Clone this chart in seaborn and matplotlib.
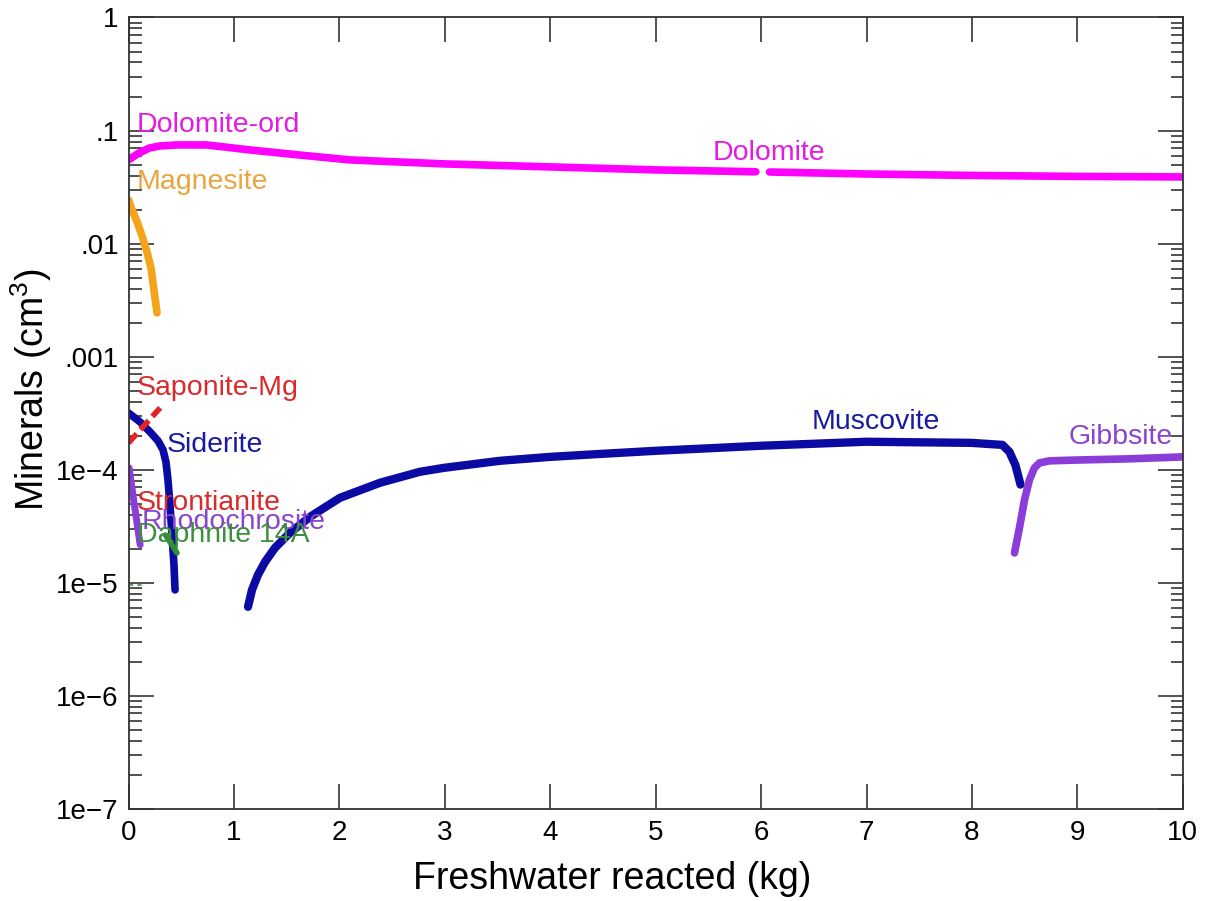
import numpy as np
import pandas as pd
import matplotlib
matplotlib.use("Agg")
import matplotlib.pyplot as plt
from matplotlib.ticker import FixedLocator, FixedFormatter, LogLocator, NullFormatter, NullLocator
import seaborn as sns

# ---- mineral volumes (cm3) versus freshwater reacted (kg) ----
dolomite_ord_x = [0.0, 0.1, 0.2, 0.3, 0.46, 0.74, 1.15, 1.62, 2.1, 3.0, 4.0, 5.0, 5.95]
dolomite_ord_y = [0.0550, 0.0634, 0.0702, 0.0731, 0.0746, 0.0746, 0.0674, 0.0608,
                  0.0550, 0.0507, 0.0477, 0.0449, 0.0432]

dolomite_x = [6.08, 7.0, 8.0, 9.0, 10.0]
dolomite_y = [0.0430, 0.0413, 0.0401, 0.0393, 0.0389]

magnesite_x = [0.0, 0.033, 0.081, 0.128, 0.175, 0.213, 0.232, 0.251, 0.270]
magnesite_y = [0.0243, 0.0199, 0.0156, 0.0117, 0.00843, 0.00610, 0.00449, 0.00331, 0.00244]

saponite_x = [0.0, 0.3]
saponite_y = [1.73e-4, 3.53e-4]

siderite_x = [0.0, 0.109, 0.204, 0.280, 0.327, 0.355, 0.374, 0.393, 0.412, 0.431, 0.441]
siderite_y = [3.18e-4, 2.65e-4, 2.16e-4, 1.80e-4, 1.50e-4, 1.17e-4, 8.15e-5, 4.9e-5,
              2.65e-5, 1.44e-5, 8.67e-6]

rhodochrosite_x = [0.005, 0.11]
rhodochrosite_y = [1.04e-4, 2.17e-5]

daphnite_x = [0.35, 0.46]
daphnite_y = [2.65e-5, 1.84e-5]

daphnite_tail_x = [0.0, 0.13]
daphnite_tail_y = [9.5e-6, 9.5e-6]

muscovite_x = [1.133, 1.171, 1.227, 1.294, 1.389, 1.531, 1.720, 2.005, 2.384, 2.763, 2.991,
               3.52, 3.995, 4.469, 4.991, 5.995, 7.0, 7.995, 8.289, 8.355, 8.412, 8.46]
muscovite_y = [6.14e-6, 8.67e-6, 1.175e-5, 1.53e-5, 2.04e-5, 2.77e-5, 3.83e-5, 5.65e-5,
               7.67e-5, 9.6e-5, 1.04e-4, 1.2e-4, 1.3e-4, 1.38e-4, 1.47e-4, 1.63e-4,
               1.77e-4, 1.73e-4, 1.66e-4, 1.44e-4, 1.1e-4, 7.4e-5]

gibbsite_x = [8.403, 8.450, 8.498, 8.545, 8.592, 8.640, 8.735, 9.0, 9.493, 9.995]
gibbsite_y = [1.84e-5, 3.06e-5, 5.42e-5, 8.15e-5, 1.04e-4, 1.15e-4, 1.2e-4, 1.22e-4,
              1.25e-4, 1.30e-4]

# tick values and labels
x_ticks = [0, 1, 2, 3, 4, 5, 6, 7, 8, 9, 10]
y_ticks = [1e-7, 1e-6, 1e-5, 1e-4, 1e-3, 1e-2, 1e-1, 1]
y_tick_labels = ["1e\u22127", "1e\u22126", "1e\u22125", "1e\u22124", ".001", ".01", ".1", "1"]

# curve labels
label_names = ["Dolomite-ord", "Dolomite", "Magnesite", "Saponite-Mg", "Siderite",
               "Strontianite", "Rhodochrosite", "Daphnite 14A", "Muscovite", "Gibbsite"]
label_x = [0.08, 6.07, 0.08, 0.08, 0.365, 0.08, 0.12, 0.08, 7.09, 8.92]
label_y = [0.112, 0.0634, 0.0351, 5.3e-4, 1.66e-4, 5.1e-5, 3.46e-5, 2.66e-5, 2.65e-4, 1.95e-4]
label_ha = ["left", "center", "left", "left", "left", "left", "left", "left", "center", "left"]
label_colors = ["#E21CE2", "#E21CE2", "#E9A540", "#DB2A2A", "#1A1A9E",
                "#DB2A2A", "#8A45CC", "#3C8F3C", "#1A1A9E", "#8A45CC"]

MAGENTA = "#FF00FF"
ORANGE = "#F5A31A"
RED = "#E32424"
BLUE = "#0B0BA3"
PURPLE = "#8A3DD8"
GREEN = "#2F8F35"

sns.set_style("ticks")
plt.rcParams["font.family"] = ["Liberation Sans", "DejaVu Sans"]
plt.rcParams["mathtext.fontset"] = "custom"
plt.rcParams["mathtext.rm"] = "Liberation Sans"
plt.rcParams["mathtext.it"] = "Liberation Sans:italic"
plt.rcParams["text.color"] = "black"
plt.rcParams["axes.labelcolor"] = "black"
plt.rcParams["xtick.labelcolor"] = "black"
plt.rcParams["ytick.labelcolor"] = "black"

fig = plt.figure(figsize=(12.07, 9.01), dpi=100)
ax = fig.add_axes([0.1065, 0.1021, 0.8735, 0.8785])

line_kw = dict(estimator=None, sort=False, ax=ax, legend=False,
               solid_capstyle="round", solid_joinstyle="round")

series = [
    (dolomite_ord_x, dolomite_ord_y, MAGENTA, 5.5),
    (dolomite_x, dolomite_y, MAGENTA, 5.5),
    (magnesite_x, magnesite_y, ORANGE, 5.5),
    (siderite_x, siderite_y, BLUE, 5.5),
    (rhodochrosite_x, rhodochrosite_y, PURPLE, 5.0),
    (daphnite_x, daphnite_y, GREEN, 4.0),
    (muscovite_x, muscovite_y, BLUE, 6.0),
    (gibbsite_x, gibbsite_y, PURPLE, 5.5),
]
for xs, ys, col, lw in series:
    sns.lineplot(x=xs, y=ys, color=col, linewidth=lw, **line_kw)

# dashed Saponite-Mg
sns.lineplot(x=saponite_x, y=saponite_y, color=RED, linewidth=4.0,
             linestyle=(0, (2.2, 1.0)), estimator=None, sort=False, ax=ax, legend=False)
# faint thin Daphnite trace
sns.lineplot(x=daphnite_tail_x, y=daphnite_tail_y, color=GREEN, linewidth=1.5, alpha=0.8,
             linestyle=(0, (2, 2)), estimator=None, sort=False, ax=ax, legend=False)

for name, lx, ly, ha, col in zip(label_names, label_x, label_y, label_ha, label_colors):
    ax.text(lx, ly, name, color=col, fontsize=20.5, ha=ha, va="center")

ax.set_yscale("log")
ax.set_xlim(0, 10)
ax.set_ylim(1e-7, 1)

ax.xaxis.set_major_locator(FixedLocator(x_ticks))
ax.xaxis.set_minor_locator(NullLocator())
ax.yaxis.set_major_locator(FixedLocator(y_ticks))
ax.yaxis.set_major_formatter(FixedFormatter(y_tick_labels))
ax.yaxis.set_minor_locator(LogLocator(base=10, subs=np.arange(2, 10)))
ax.yaxis.set_minor_formatter(NullFormatter())

ax.tick_params(which="both", direction="in", top=True, right=True, color="#333333", width=1.2)
ax.tick_params(which="major", length=18, labelsize=20)
ax.tick_params(which="minor", length=9)
ax.tick_params(axis="x", pad=8)
ax.tick_params(axis="y", pad=7)

for sp in ax.spines.values():
    sp.set_color("#333333")
    sp.set_linewidth(1.3)
    sp.set_visible(True)

ax.set_xlabel("Freshwater reacted (kg)", fontsize=27)
ax.set_ylabel(r"Minerals (cm$^\mathregular{3}$)", fontsize=27)
ax.xaxis.set_label_coords(0.4585, -0.066)
ax.yaxis.set_label_coords(-0.071, 0.53)

fig.savefig("out.png", dpi=100)
